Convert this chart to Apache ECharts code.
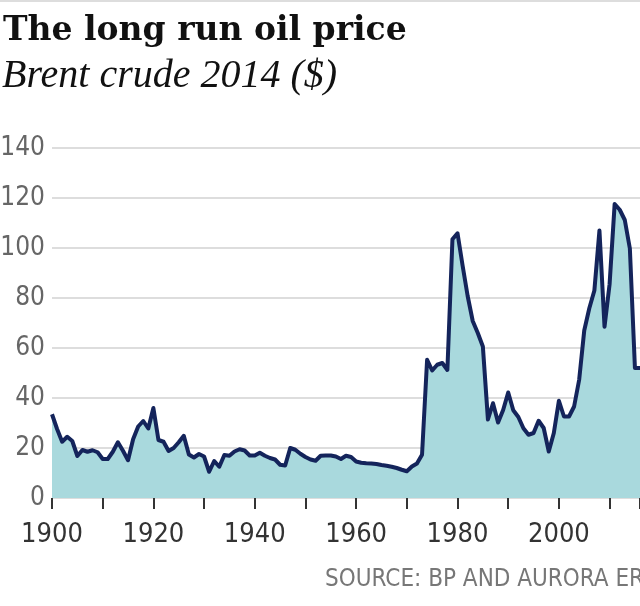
<!DOCTYPE html>
<html>
<head>
<meta charset="utf-8">
<script src="https://cdn.jsdelivr.net/npm/echarts@6/dist/echarts.min.js"></script>
<style>
html,body{margin:0;padding:0;background:#fff;}
#chart{width:640px;height:606px;}
</style>
</head>
<body>
<div id="chart"></div>
<script>
var titleText = 'The long run oil price';
var subtitleText = 'Brent crude 2014 ($)';
var sourceText = 'SOURCE: BP AND AURORA ER';

var years = [];
for (var y = 1900; y <= 2016; y++) years.push(y);

var prices = [
  33.5, 27.6, 22.5, 24.5, 22.8, 16.8, 19.2, 18.5, 19.1, 18.3,
  15.6, 15.6, 18.5, 22.3, 18.9, 15.1, 23.5, 28.6, 30.8, 27.8,
  36.0, 23.2, 22.5, 18.8, 20.0, 22.3, 24.9, 17.4, 16.2, 17.6,
  16.6, 10.5, 14.8, 12.5, 17.2, 16.9, 18.6, 19.5, 19.0, 17.0,
  17.0, 18.1, 16.9, 16.0, 15.4, 13.3, 13.0, 20.0, 19.3, 17.7,
  16.4, 15.4, 14.9, 16.9, 17.0, 17.0, 16.6, 15.6, 16.9, 16.4,
  14.6, 14.1, 13.9, 13.8, 13.6, 13.2, 12.9, 12.5, 12.0, 11.3,
  10.7, 12.6, 13.8, 17.3, 55.3, 51.0, 53.3, 54.0, 51.2, 103.5,
  105.9, 93.0, 80.8, 70.8, 66.0, 60.6, 31.4, 37.9, 30.2, 35.2,
  42.2, 35.1, 32.4, 27.9, 25.3, 26.0, 30.9, 28.0, 18.6, 26.0,
  38.9, 32.6, 32.6, 36.6, 47.3, 67.0, 75.9, 83.0, 107.0, 68.5,
  85.5, 117.6, 115.3, 111.2, 99.8, 52.0, 52.0
];

var yTicks = [0, 20, 40, 60, 80, 100, 120, 140];
var xLabelYears = [1900, 1920, 1940, 1960, 1980, 2000];

var seriesData = years.map(function (yr, i) { return [yr, prices[i]]; });

var narrow = '"Liberation Sans Narrow", "DejaVu Sans Condensed", "Roboto", sans-serif';

var chart = echarts.init(document.getElementById('chart'), null, {renderer: 'canvas'});
chart.setOption({
  animation: false,
  backgroundColor: '#ffffff',
  grid: {left: 52, right: 0, top: 148, bottom: 108, containLabel: false, outerBoundsMode: 'none'},
  xAxis: {
    type: 'value',
    min: 1900,
    max: 2016,
    interval: 10,
    axisLine: {show: false},
    axisTick: {show: true, length: 11, lineStyle: {color: '#333333', width: 2}},
    splitLine: {show: false},
    axisLabel: {
      color: '#333333',
      fontSize: 27,
      fontFamily: narrow,
      margin: 23,
      formatter: function (v) { return xLabelYears.indexOf(v) >= 0 ? String(v) : ''; }
    }
  },
  yAxis: {
    type: 'value',
    min: yTicks[0],
    max: yTicks[yTicks.length - 1],
    interval: 20,
    axisLine: {show: false},
    axisTick: {show: false},
    splitLine: {show: true, lineStyle: {color: '#dddddd', width: 2}},
    axisLabel: {color: '#666666', fontSize: 26, fontFamily: narrow, margin: 7}
  },
  series: [{
    type: 'line',
    data: seriesData,
    showSymbol: false,
    symbol: 'none',
    smooth: false,
    lineStyle: {color: '#14245b', width: 4, join: 'round'},
    areaStyle: {color: '#a9d9dd', opacity: 1},
    z: 3
  }],
  graphic: [
    {type: 'rect', left: 0, top: 0, shape: {width: 640, height: 2}, style: {fill: '#dddddd'}},
    {type: 'text', left: 3, top: 15, style: {text: titleText, font: 'bold 33px "DejaVu Serif", serif', fill: '#111111'}},
    {type: 'text', left: 2, top: 56, style: {text: subtitleText, font: 'italic 40px "Liberation Serif", serif', fill: '#111111'}},
    {type: 'text', left: 325, top: 568, style: {text: sourceText, font: '24px ' + narrow, fill: '#777777'}}
  ]
});
</script>
</body>
</html>
